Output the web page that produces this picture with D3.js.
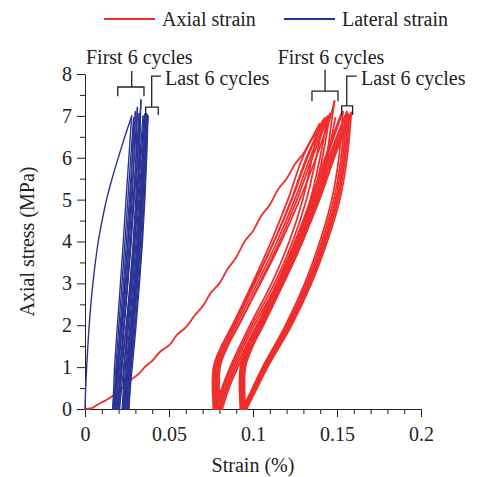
<!DOCTYPE html>
<html>
<head>
<meta charset="utf-8">
<script src="https://cdn.jsdelivr.net/npm/d3@7"></script>
<style>
  body { margin: 0; background: #fff; }
  text { font-family: "Liberation Serif", "Times New Roman", serif; fill: #222; }
  .axis path, .axis line { stroke: #222; }
</style>
</head>
<body>
<div id="chart"></div>
<script>

// axis ticks
var xTicks = [0, 0.05, 0.1, 0.15, 0.2];
var xTickLabels = ["0", "0.05", "0.1", "0.15", "0.2"];
var xMinorTicks = [0.01, 0.02, 0.03, 0.04, 0.06, 0.07, 0.08, 0.09, 0.11, 0.12, 0.13, 0.14, 0.16, 0.17, 0.18, 0.19];
var yTicks = [0, 1, 2, 3, 4, 5, 6, 7, 8];
var yMinorTicks = [0.5, 1.5, 2.5, 3.5, 4.5, 5.5, 6.5, 7.5];

var seriesNames = ["Axial strain", "Lateral strain"];

// [strain %, stress MPa]
var axialFirstLoading = [[0, 0], [0.004, 0.02], [0.008, 0.12], [0.012, 0.2], [0.016, 0.3], [0.02, 0.45], [0.024, 0.55],
  [0.028, 0.72], [0.032, 0.84], [0.036, 1.02], [0.04, 1.15], [0.045, 1.38], [0.05, 1.52], [0.055, 1.78], [0.06, 1.95],
  [0.065, 2.22], [0.07, 2.45], [0.075, 2.78], [0.08, 3.0], [0.085, 3.35], [0.09, 3.62], [0.095, 4.0], [0.10, 4.25],
  [0.105, 4.62], [0.11, 4.88], [0.115, 5.25], [0.12, 5.5], [0.125, 5.85], [0.13, 6.1], [0.134, 6.38], [0.138, 6.6],
  [0.141, 6.85], [0.143, 6.95]];

var axialFirstCycles = [
  [[0.1430, 6.95], [0.1324, 6], [0.1231, 5], [0.1124, 4], [0.1004, 3], [0.0878, 2], [0.0812, 1.5], [0.0765, 1], [0.0765, 0],
   [0.0778, 0], [0.0815, 0.5], [0.0864, 1], [0.0982, 2], [0.1111, 3], [0.1216, 4], [0.1296, 5], [0.1352, 6], [0.1395, 6.8]],
  [[0.1395, 6.8], [0.1295, 6], [0.1208, 5], [0.1108, 4], [0.0996, 3], [0.0878, 2], [0.0816, 1.5], [0.0772, 1], [0.0772, 0],
   [0.0785, 0], [0.0823, 0.5], [0.0874, 1], [0.0995, 2], [0.1128, 3], [0.1236, 4], [0.1318, 5], [0.1376, 6], [0.1420, 6.9]],
  [[0.1420, 6.9], [0.1318, 6], [0.1228, 5], [0.1126, 4], [0.1010, 3], [0.0889, 2], [0.0825, 1.5], [0.0780, 1], [0.0780, 0],
   [0.0793, 0], [0.0832, 0.5], [0.0884, 1], [0.1008, 2], [0.1145, 3], [0.1256, 4], [0.1341, 5], [0.1399, 6], [0.1445, 7.0]],
  [[0.1445, 7.0], [0.1340, 6], [0.1248, 5], [0.1143, 4], [0.1025, 3], [0.0900, 2], [0.0834, 1.5], [0.0788, 1], [0.0788, 0],
   [0.0800, 0], [0.0841, 0.5], [0.0896, 1], [0.1026, 2], [0.1170, 3], [0.1286, 4], [0.1375, 5], [0.1437, 6], [0.1472, 7], [0.1485, 7.35]],
  [[0.1485, 7.35], [0.1462, 7], [0.1375, 6], [0.1278, 5], [0.1168, 4], [0.1044, 3], [0.0913, 2], [0.0844, 1.5], [0.0796, 1], [0.0796, 0],
   [0.0808, 0], [0.0847, 0.5], [0.0899, 1], [0.1023, 2], [0.1159, 3], [0.1270, 4], [0.1354, 5], [0.1413, 6], [0.1458, 7.05]],
  [[0.1458, 7.05], [0.1353, 6], [0.1262, 5], [0.1157, 4], [0.1039, 3], [0.0915, 2], [0.0850, 1.5], [0.0804, 1], [0.0804, 0],
   [0.0817, 0], [0.0857, 0.5], [0.0911, 1], [0.1039, 2], [0.1180, 3], [0.1295, 4], [0.1382, 5], [0.1443, 6], [0.1490, 6.95]]
];

var axialLastCycles = [
  [[0.1525, 7.05], [0.1429, 6], [0.1345, 5], [0.1249, 4], [0.1141, 3], [0.1027, 2], [0.0967, 1.5], [0.0925, 1], [0.0925, 0],
   [0.0937, 0], [0.0997, 0.5], [0.1057, 1], [0.1194, 2], [0.1308, 3], [0.1398, 4], [0.1469, 5], [0.1511, 6], [0.1535, 7.1]],
  [[0.1535, 7.1], [0.1438, 6], [0.1354, 5], [0.1257, 4], [0.1148, 3], [0.1033, 2], [0.0972, 1.5], [0.0930, 1], [0.0930, 0],
   [0.0942, 0], [0.1003, 0.5], [0.1063, 1], [0.1203, 2], [0.1318, 3], [0.1409, 4], [0.1481, 5], [0.1524, 6], [0.1548, 7.0]],
  [[0.1548, 7.0], [0.1450, 6], [0.1364, 5], [0.1266, 4], [0.1156, 3], [0.1039, 2], [0.0978, 1.5], [0.0935, 1], [0.0935, 0],
   [0.0947, 0], [0.1008, 0.5], [0.1069, 1], [0.1210, 2], [0.1326, 3], [0.1418, 4], [0.1491, 5], [0.1534, 6], [0.1558, 7.1]],
  [[0.1558, 7.1], [0.1459, 6], [0.1373, 5], [0.1274, 4], [0.1163, 3], [0.1045, 2], [0.0983, 1.5], [0.0940, 1], [0.0940, 0],
   [0.0952, 0], [0.1014, 0.5], [0.1075, 1], [0.1217, 2], [0.1334, 3], [0.1426, 4], [0.1500, 5], [0.1543, 6], [0.1568, 7.05]],
  [[0.1568, 7.05], [0.1468, 6], [0.1381, 5], [0.1281, 4], [0.1169, 3], [0.1051, 2], [0.0989, 1.5], [0.0945, 1], [0.0945, 0],
   [0.0957, 0], [0.1019, 0.5], [0.1081, 1], [0.1223, 2], [0.1340, 3], [0.1433, 4], [0.1507, 5], [0.1550, 6], [0.1575, 7.0]],
  [[0.1575, 7.0], [0.1475, 6], [0.1388, 5], [0.1288, 4], [0.1175, 3], [0.1056, 2], [0.0994, 1.5], [0.0950, 1], [0.0950, 0],
   [0.0962, 0], [0.1024, 0.5], [0.1087, 1], [0.1230, 2], [0.1348, 3], [0.1442, 4], [0.1517, 5], [0.1560, 6], [0.1585, 7.08],
   [0.1484, 6], [0.1396, 5], [0.1295, 4], [0.1182, 3], [0.1062, 2], [0.0999, 1.5], [0.0955, 1], [0.0955, 0]]
];

var lateralFirstLoading = [[0, 0], [0.0004, 0.5], [0.0010, 1], [0.0025, 2], [0.0047, 3], [0.0079, 4], [0.0102, 4.5],
  [0.0128, 5], [0.0161, 5.5], [0.0198, 6.0], [0.0237, 6.5], [0.0278, 7.0]];

var lateralFirstCycles = [
  [[0.0278, 7.0], [0.0261, 6], [0.0244, 5], [0.0228, 4], [0.0211, 3], [0.0193, 2], [0.0176, 1], [0.0171, 0.5], [0.0165, 0],
   [0.0178, 0.5], [0.0190, 1], [0.0215, 2], [0.0236, 3], [0.0255, 4], [0.0270, 5], [0.0281, 6], [0.0290, 6.95]],
  [[0.0290, 6.95], [0.0272, 6], [0.0255, 5], [0.0238, 4], [0.0220, 3], [0.0202, 2], [0.0184, 1], [0.0178, 0.5], [0.0172, 0],
   [0.0185, 0.5], [0.0198, 1], [0.0223, 2], [0.0245, 3], [0.0264, 4], [0.0280, 5], [0.0291, 6], [0.0300, 7.1]],
  [[0.0300, 7.1], [0.0282, 6], [0.0264, 5], [0.0247, 4], [0.0229, 3], [0.0210, 2], [0.0192, 1], [0.0186, 0.5], [0.0180, 0],
   [0.0193, 0.5], [0.0206, 1], [0.0233, 2], [0.0255, 3], [0.0275, 4], [0.0291, 5], [0.0303, 6], [0.0312, 7.2]],
  [[0.0312, 7.2], [0.0293, 6], [0.0275, 5], [0.0257, 4], [0.0239, 3], [0.0219, 2], [0.0200, 1], [0.0194, 0.5], [0.0188, 0],
   [0.0203, 0.5], [0.0217, 1], [0.0246, 2], [0.0271, 3], [0.0292, 4], [0.0310, 5], [0.0323, 6], [0.0330, 7], [0.0333, 7.38]],
  [[0.0333, 7.38], [0.0328, 7], [0.0313, 6], [0.0292, 5], [0.0273, 4], [0.0252, 3], [0.0230, 2], [0.0210, 1], [0.0203, 0.5], [0.0196, 0],
   [0.0209, 0.5], [0.0221, 1], [0.0246, 2], [0.0268, 3], [0.0287, 4], [0.0302, 5], [0.0313, 6], [0.0322, 7.05]],
  [[0.0322, 7.05], [0.0305, 6], [0.0287, 5], [0.0271, 4], [0.0253, 3], [0.0234, 2], [0.0217, 1], [0.0211, 0.5], [0.0205, 0],
   [0.0218, 0.5], [0.0230, 1], [0.0255, 2], [0.0276, 3], [0.0295, 4], [0.0310, 5], [0.0321, 6], [0.0330, 7.0]]
];

var lateralLastCycles = [
  [[0.0345, 7.0], [0.0327, 6], [0.0308, 5], [0.0291, 4], [0.0272, 3], [0.0253, 2], [0.0234, 1], [0.0228, 0.5], [0.0222, 0],
   [0.0235, 0.5], [0.0248, 1], [0.0274, 2], [0.0296, 3], [0.0316, 4], [0.0331, 5], [0.0343, 6], [0.0352, 7.0]],
  [[0.0352, 7.0], [0.0333, 6], [0.0315, 5], [0.0297, 4], [0.0279, 3], [0.0259, 2], [0.0240, 1], [0.0234, 0.5], [0.0228, 0],
   [0.0241, 0.5], [0.0254, 1], [0.0280, 2], [0.0302, 3], [0.0322, 4], [0.0337, 5], [0.0349, 6], [0.0358, 7.05]],
  [[0.0358, 7.05], [0.0340, 6], [0.0321, 5], [0.0304, 4], [0.0285, 3], [0.0266, 2], [0.0247, 1], [0.0241, 0.5], [0.0235, 0],
   [0.0248, 0.5], [0.0261, 1], [0.0286, 2], [0.0308, 3], [0.0327, 4], [0.0343, 5], [0.0354, 6], [0.0363, 6.95]],
  [[0.0363, 6.95], [0.0345, 6], [0.0327, 5], [0.0310, 4], [0.0292, 3], [0.0272, 2], [0.0254, 1], [0.0248, 0.5], [0.0242, 0],
   [0.0255, 0.5], [0.0267, 1], [0.0292, 2], [0.0313, 3], [0.0332, 4], [0.0347, 5], [0.0358, 6], [0.0367, 7.05]],
  [[0.0367, 7.05], [0.0350, 6], [0.0332, 5], [0.0316, 4], [0.0298, 3], [0.0279, 2], [0.0262, 1], [0.0256, 0.5], [0.0250, 0],
   [0.0262, 0.5], [0.0274, 1], [0.0299, 2], [0.0320, 3], [0.0338, 4], [0.0353, 5], [0.0364, 6], [0.0372, 7.0]],
  [[0.0372, 7.0], [0.0355, 6], [0.0338, 5], [0.0321, 4], [0.0304, 3], [0.0286, 2], [0.0269, 1], [0.0263, 0.5], [0.0257, 0],
   [0.0269, 0.5], [0.0281, 1], [0.0304, 2], [0.0324, 3], [0.0342, 4], [0.0356, 5], [0.0367, 6], [0.0375, 7.0],
   [0.0358, 6], [0.0341, 5], [0.0325, 4], [0.0308, 3], [0.0290, 2], [0.0273, 1], [0.0268, 0.5], [0.0262, 0]]
];

// bracket annotations, in data units: x0, x1 of the bar, bar level, leg end, stem x, stem end
var firstBrackets = [
  {x0: 0.0195, x1: 0.0351, bar: 7.69, leg: 7.47, stem: 0.0278, stemTop: 8.07},
  {x0: 0.1351, x1: 0.1506, bar: 7.59, leg: 7.35, stem: 0.1429, stemTop: 8.10}
];
var lastBrackets = [
  {x0: 0.0361, x1: 0.0436, bar: 7.21, leg: 7.02, stem: 0.0397, stemTop: 7.95, hookEnd: 0.0452},
  {x0: 0.1528, x1: 0.1593, bar: 7.24, leg: 7.02, stem: 0.1558, stemTop: 7.95, hookEnd: 0.1617}
];
var firstLabelPos = [[0.0006, 8.24], [0.1147, 8.24]];
var lastLabelPos = [[0.0476, 7.74], [0.1643, 7.74]];

var width = 481, height = 477;
var margin = {top: 74, right: 60, bottom: 68, left: 85};

var colors = {axial: "#ee2d2d", lateral: "#2b3494"};

var svg = d3.select("#chart").append("svg")
  .attr("width", width)
  .attr("height", height);

var x = d3.scaleLinear().domain([0, 0.2]).range([margin.left, width - margin.right]);
var y = d3.scaleLinear().domain([0, 8]).range([height - margin.bottom, margin.top]);

//minor ticks first so major ones sit on top
svg.append("g")
  .attr("class", "axis")
  .attr("transform", "translate(0," + y(0) + ")")
  .call(d3.axisBottom(x).tickValues(xMinorTicks).tickSize(5).tickFormat(""))
  .select(".domain").remove();
svg.append("g")
  .attr("class", "axis")
  .attr("transform", "translate(" + x(0) + ",0)")
  .call(d3.axisLeft(y).tickValues(yMinorTicks).tickSize(5).tickFormat(""))
  .select(".domain").remove();

var xAxis = svg.append("g")
  .attr("class", "axis")
  .attr("transform", "translate(0," + y(0) + ")")
  .call(d3.axisBottom(x).tickValues(xTicks).tickSize(8).tickSizeOuter(0).tickPadding(10)
    .tickFormat(function(d, i){ return xTickLabels[i]; }));
xAxis.selectAll("text").style("font-size", "20px");

var yAxis = svg.append("g")
  .attr("class", "axis")
  .attr("transform", "translate(" + x(0) + ",0)")
  .call(d3.axisLeft(y).tickValues(yTicks).tickSize(8).tickSizeOuter(0).tickPadding(5));
yAxis.selectAll("text").style("font-size", "20px");

svg.selectAll(".axis text").style("fill", "#222");

// axis titles
svg.append("text")
  .attr("x", (x(0) + x(0.2)) / 2)
  .attr("y", height - 5)
  .attr("text-anchor", "middle")
  .style("font-size", "20px")
  .text("Strain (%)");

svg.append("text")
  .attr("transform", "translate(34," + ((y(0) + y(8)) / 2) + ") rotate(-90)")
  .attr("text-anchor", "middle")
  .style("font-size", "20px")
  .text("Axial stress (MPa)");

var line = d3.line()
  .x(function(d){ return x(d[0]); })
  .y(function(d){ return y(d[1]); })
  .curve(d3.curveCatmullRom.alpha(0.5));

// cut a cycle wherever the stress turns, so peaks and valleys stay sharp
function splitBranches(pts){
  var out = [], cur = [pts[0]], prevSign = null;
  for (var i = 1; i < pts.length; i++){
    var s = Math.sign(pts[i][1] - pts[i - 1][1]);
    if (prevSign !== null && s !== prevSign){
      out.push(cur);
      cur = [pts[i - 1]];
    }
    cur.push(pts[i]);
    prevSign = s;
  }
  out.push(cur);
  return out;
}

function drawCurves(list, color, w){
  var branches = [];
  list.forEach(function(c){ branches = branches.concat(splitBranches(c)); });
  svg.append("g").selectAll("path")
    .data(branches)
    .enter()
    .append("path")
    .attr("d", line)
    .attr("fill", "none")
    .attr("stroke", color)
    .attr("stroke-width", w)
    .attr("stroke-linejoin", "round")
    .attr("stroke-linecap", "round");
}

drawCurves([axialFirstLoading].concat(axialFirstCycles, axialLastCycles), colors.axial, 1.8);
drawCurves([lateralFirstLoading].concat(lateralFirstCycles, lateralLastCycles), colors.lateral, 1.4);

// legend
var legend = [
  {name: seriesNames[0], color: colors.axial, x0: 104, x1: 155},
  {name: seriesNames[1], color: colors.lateral, x0: 284, x1: 335}
];
legend.forEach(function(l){
  svg.append("line")
    .attr("x1", l.x0).attr("x2", l.x1)
    .attr("y1", 19).attr("y2", 19)
    .attr("stroke", l.color)
    .attr("stroke-width", 2);
  svg.append("text")
    .attr("x", l.x1 + 7)
    .attr("y", 26)
    .style("font-size", "20px")
    .text(l.name);
});

// cycle annotations
var ann = svg.append("g")
  .attr("fill", "none")
  .attr("stroke", "#222")
  .attr("stroke-width", 1.3);

firstBrackets.forEach(function(b){
  ann.append("path").attr("d",
    "M" + x(b.x0) + "," + y(b.leg) + "V" + y(b.bar) + "H" + x(b.x1) + "V" + y(b.leg) +
    "M" + x(b.stem) + "," + y(b.bar) + "V" + y(b.stemTop));
});
lastBrackets.forEach(function(b){
  ann.append("path").attr("d",
    "M" + x(b.x0) + "," + y(b.leg) + "V" + y(b.bar) + "H" + x(b.x1) + "V" + y(b.leg) +
    "M" + x(b.stem) + "," + y(b.bar) + "V" + y(b.stemTop) + "H" + x(b.hookEnd));
});

firstLabelPos.forEach(function(p){
  svg.append("text")
    .attr("x", x(p[0])).attr("y", y(p[1]))
    .style("font-size", "20px")
    .text("First 6 cycles");
});
lastLabelPos.forEach(function(p){
  svg.append("text")
    .attr("x", x(p[0])).attr("y", y(p[1]))
    .style("font-size", "20px")
    .text("Last 6 cycles");
});

</script>
</body>
</html>
